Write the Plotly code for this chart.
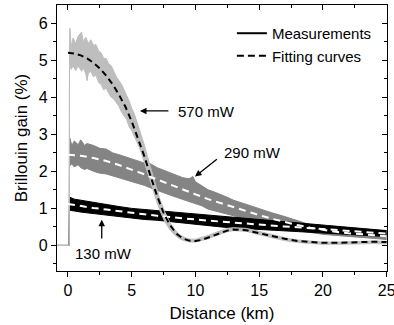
import plotly.graph_objects as go

# ---------------- data ----------------
# 570 mW measurement: noisy band (upper / lower envelope)
km_570 = [-1.0, 0.10, 0.12, 0.15, 0.25, 0.4, 0.6, 0.8, 1.07, 1.2, 1.4, 1.5, 1.6, 1.8, 2.0, 2.2, 2.4, 2.6,
          2.8, 3.0, 3.2, 3.4, 3.6, 3.8, 4.0, 4.2, 4.4, 4.6, 4.8, 5.0, 5.2, 5.4, 5.6, 5.8, 6.0, 6.4, 6.8,
          7.2, 7.6, 8.0, 8.4, 8.8, 9.2, 9.6, 10.0, 10.5, 11.0, 11.5, 12.0, 12.5, 13.0, 13.5, 14.0, 15.0,
          16.0, 17.0, 18.0, 19.0, 20.0, 21.0, 22.0, 23.0, 24.0, 25.0]
up_570 = [0, 0, 5.3, 5.86, 5.35, 5.6, 5.45, 5.65, 5.76, 5.5, 5.62, 5.5, 5.45, 5.55, 5.4, 5.42, 5.25, 5.2,
          5.05, 5.05, 4.9, 4.85, 4.7, 4.55, 4.45, 4.35, 4.2, 4.05, 3.9, 3.7, 3.55, 3.35, 3.15, 2.95, 2.7,
          2.2, 1.72, 1.26, 0.9, 0.62, 0.42, 0.28, 0.21, 0.17, 0.17, 0.21, 0.27, 0.34, 0.41, 0.46, 0.48,
          0.48, 0.46, 0.38, 0.29, 0.21, 0.15, 0.11, 0.09, 0.09, 0.10, 0.12, 0.12, 0.11]
lo_570 = [0, 0, 4.9, 4.9, 4.75, 4.85, 4.72, 4.85, 4.7, 4.8, 4.62, 4.45, 4.65, 4.7, 4.55, 4.6, 4.4, 4.35,
          4.2, 4.25, 4.1, 4.0, 3.95, 3.85, 3.75, 3.6, 3.5, 3.4, 3.2, 3.1, 2.95, 2.8, 2.65, 2.45, 2.25,
          1.8, 1.36, 0.95, 0.64, 0.42, 0.27, 0.17, 0.12, 0.09, 0.09, 0.13, 0.18, 0.25, 0.32, 0.37, 0.4,
          0.4, 0.38, 0.29, 0.2, 0.13, 0.08, 0.05, 0.03, 0.03, 0.04, 0.05, 0.05, 0.04]

# 290 mW measurement band
km_290 = [-1.0, 0.10, 0.12, 0.15, 0.3, 0.5, 0.8, 1.0, 1.3, 1.5, 2.0, 2.5, 3.0, 3.5, 4.0, 4.5, 5.0, 5.5,
          6.0, 6.5, 7.0, 7.5, 8.0, 8.5, 9.0, 9.5, 9.8, 10.0, 10.5, 11.0, 11.5, 12.0, 12.5, 13.0, 13.5,
          14.0, 15.0, 16.0, 17.0, 18.0, 19.0, 20.0, 21.0, 22.0, 23.0, 24.0, 25.0]
up_290 = [0, 0, 2.8, 2.9, 2.7, 2.82, 2.72, 2.85, 2.7, 2.75, 2.7, 2.62, 2.6, 2.5, 2.45, 2.4, 2.33, 2.28,
          2.22, 2.2, 2.1, 2.03, 1.97, 1.9, 1.83, 1.8, 1.86, 1.72, 1.6, 1.5, 1.44, 1.38, 1.3, 1.22, 1.16,
          1.12, 1.0, 0.88, 0.78, 0.66, 0.56, 0.5, 0.45, 0.42, 0.39, 0.36, 0.34]
lo_290 = [0, 0, 2.15, 2.15, 2.2, 2.12, 2.18, 2.1, 2.05, 2.08, 2.0, 1.95, 1.93, 1.88, 1.82, 1.77, 1.72, 1.68,
          1.62, 1.55, 1.48, 1.42, 1.36, 1.3, 1.24, 1.2, 1.16, 1.14, 1.07, 0.98, 0.94, 0.9, 0.85, 0.8, 0.75,
          0.72, 0.62, 0.52, 0.44, 0.4, 0.34, 0.3, 0.27, 0.25, 0.22, 0.19, 0.16]

# 130 mW measurement band
km_130 = [-1.0, 0.10, 0.12, 0.15, 0.5, 1.0, 1.5, 2.0, 2.5, 3.0, 3.5, 4.0, 5.0, 6.0, 7.0, 8.0, 9.0, 10.0,
          11.0, 12.0, 13.0, 14.0, 15.0, 16.0, 17.0, 18.0, 19.0, 20.0, 21.0, 22.0, 23.0, 24.0, 25.0]
up_130 = [0, 0, 1.25, 1.3, 1.25, 1.22, 1.2, 1.15, 1.12, 1.1, 1.07, 1.05, 1.0, 0.97, 0.93, 0.9, 0.87, 0.84,
          0.82, 0.79, 0.76, 0.73, 0.7, 0.66, 0.63, 0.6, 0.57, 0.54, 0.52, 0.5, 0.46, 0.43, 0.40]
lo_130 = [0, 0, 0.95, 0.95, 0.93, 0.9, 0.88, 0.86, 0.84, 0.82, 0.8, 0.78, 0.74, 0.7, 0.68, 0.64, 0.6, 0.57,
          0.54, 0.5, 0.47, 0.45, 0.43, 0.41, 0.4, 0.38, 0.37, 0.35, 0.33, 0.31, 0.29, 0.27, 0.24]

# Fitting curves
km_fit570 = [0, 0.5, 1, 1.5, 2, 2.5, 3, 3.5, 4, 4.5, 5, 5.5, 6, 6.5, 7, 7.5, 8, 8.5, 9, 9.5, 10, 10.5,
             11, 11.5, 12, 12.5, 13, 13.5, 14, 15, 16, 17, 18, 19, 20, 21, 22, 23, 24, 25]
fit_570 = [5.2, 5.18, 5.13, 5.05, 4.93, 4.78, 4.58, 4.35, 4.07, 3.75, 3.35, 2.9, 2.4, 1.85, 1.33, 0.88,
           0.55, 0.32, 0.19, 0.13, 0.12, 0.15, 0.21, 0.28, 0.35, 0.4, 0.43, 0.43, 0.41, 0.33, 0.25, 0.18,
           0.12, 0.09, 0.07, 0.07, 0.08, 0.10, 0.10, 0.09]
km_fit = [0, 1, 2, 3, 4, 5, 6, 7, 8, 9, 10, 11, 12, 13, 14, 15, 16, 17, 18, 19, 20, 21, 22, 23, 24, 25]
fit_290 = [2.45, 2.42, 2.36, 2.28, 2.17, 2.05, 1.92, 1.78, 1.64, 1.5, 1.38, 1.25, 1.14, 1.02, 0.92, 0.82,
           0.72, 0.63, 0.55, 0.48, 0.42, 0.37, 0.33, 0.30, 0.27, 0.25]
fit_130 = [1.12, 1.06, 1.01, 0.97, 0.92, 0.88, 0.84, 0.8, 0.76, 0.73, 0.7, 0.67, 0.64, 0.61, 0.58, 0.56,
           0.53, 0.51, 0.49, 0.47, 0.45, 0.42, 0.40, 0.37, 0.34, 0.32]

# Annotation labels
labels = ["570 mW", "290 mW", "130 mW"]

# ---------------- figure ----------------
LIGHT = "#bebebe"
MID = "#848484"
BLACK = "#000000"
FONT = "Liberation Sans, Arial, Helvetica, sans-serif"

fig = go.Figure()


def band(km, lo, up, color):
    fig.add_trace(go.Scatter(x=km, y=lo, mode="lines", line=dict(color=color, width=1),
                             showlegend=False, hoverinfo="skip"))
    fig.add_trace(go.Scatter(x=km, y=up, mode="lines", line=dict(color=color, width=1),
                             fill="tonexty", fillcolor=color, showlegend=False, hoverinfo="skip"))


band(km_290, lo_290, up_290, MID)
band(km_130, lo_130, up_130, BLACK)
band(km_570, lo_570, up_570, LIGHT)

fig.add_trace(go.Scatter(x=km_fit, y=fit_130, mode="lines",
                         line=dict(color="white", width=2, dash="7px,5px"), showlegend=False))
fig.add_trace(go.Scatter(x=km_fit, y=fit_290, mode="lines",
                         line=dict(color="white", width=2, dash="7px,5px"), showlegend=False))
fig.add_trace(go.Scatter(x=km_fit570, y=fit_570, mode="lines",
                         line=dict(color=BLACK, width=2, dash="6px,4px"), showlegend=False))

# legend entries
fig.add_trace(go.Scatter(x=[None], y=[None], mode="lines", name="Measurements",
                         line=dict(color=BLACK, width=2)))
fig.add_trace(go.Scatter(x=[None], y=[None], mode="lines", name="Fitting curves",
                         line=dict(color=BLACK, width=2, dash="7px,4px")))

# invisible trace for the mirrored (inside-tick) axes
fig.add_trace(go.Scatter(x=[None], y=[None], xaxis="x2", yaxis="y2", showlegend=False))

XR = [-0.86, 25.03]
YR = [-0.69, 6.49]

common = dict(showgrid=False, zeroline=False, linecolor="black", linewidth=1.4,
              tickcolor="black", tickwidth=1.2, ticklen=5, ticklabeloverflow="allow",
              tickfont=dict(family=FONT, size=16, color="black"))

fig.update_layout(
    width=394, height=325,
    margin=dict(l=57, r=7, t=5, b=54, autoexpand=False),
    paper_bgcolor="white", plot_bgcolor="white",
    font=dict(family=FONT, color="black"),
    xaxis=dict(range=XR, tickvals=[0, 5, 10, 15, 20, 25], ticks="outside", showline=True, mirror=True,
               minor=dict(tickvals=[2.5, 7.5, 12.5, 17.5, 22.5], ticks="outside", ticklen=3,
                          tickcolor="black", tickwidth=1.2),
               title=dict(text="Distance (km)", font=dict(family=FONT, size=17), standoff=8),
               **common),
    yaxis=dict(range=YR, tickvals=[0, 1, 2, 3, 4, 5, 6], ticks="outside", showline=True, mirror=True,
               minor=dict(tickvals=[-0.5, 0.5, 1.5, 2.5, 3.5, 4.5, 5.5, 6.5], ticks="outside", ticklen=3,
                          tickcolor="black", tickwidth=1.2),
               title=dict(text="Brillouin gain (%)", font=dict(family=FONT, size=17), standoff=6),
               **common),
    xaxis2=dict(range=XR, overlaying="x", side="top", tickvals=[0, 5, 10, 15, 20, 25], ticks="inside",
                showticklabels=False, showgrid=False, zeroline=False, showline=False,
                tickcolor="black", tickwidth=1.2, ticklen=5,
                minor=dict(tickvals=[2.5, 7.5, 12.5, 17.5, 22.5], ticks="inside", ticklen=3,
                           tickcolor="black", tickwidth=1.2)),
    yaxis2=dict(range=YR, overlaying="y", side="right", tickvals=[0, 1, 2, 3, 4, 5, 6], ticks="inside",
                showticklabels=False, showgrid=False, zeroline=False, showline=False,
                tickcolor="black", tickwidth=1.2, ticklen=5,
                minor=dict(tickvals=[-0.5, 0.5, 1.5, 2.5, 3.5, 4.5, 5.5, 6.5], ticks="inside", ticklen=3,
                           tickcolor="black", tickwidth=1.2)),
    legend=dict(x=0.53, y=0.955, xanchor="left", yanchor="top", bgcolor="rgba(0,0,0,0)",
                traceorder="normal",
                font=dict(family=FONT, size=15, color="black"), tracegroupgap=0, itemwidth=30),
)

arrow = dict(showarrow=True, arrowhead=2, arrowsize=1, arrowwidth=1.3, arrowcolor="black",
             xref="x", yref="y", axref="x", ayref="y", text="")
fig.add_annotation(x=5.65, y=3.63, ax=8.0, ay=3.63, **arrow)
fig.add_annotation(x=9.97, y=1.86, ax=11.8, ay=2.36, **arrow)
fig.add_annotation(x=2.65, y=0.69, ax=2.65, ay=0.15, **arrow)

txt = dict(showarrow=False, xref="x", yref="y", xanchor="left", yanchor="middle",
           font=dict(family=FONT, size=15, color="black"))
fig.add_annotation(x=8.48, y=3.61, text=labels[0], **txt)
fig.add_annotation(x=12.09, y=2.5, text=labels[1], **txt)
fig.add_annotation(x=0.39, y=-0.22, text=labels[2], **txt)

fig.write_html("out.html")
